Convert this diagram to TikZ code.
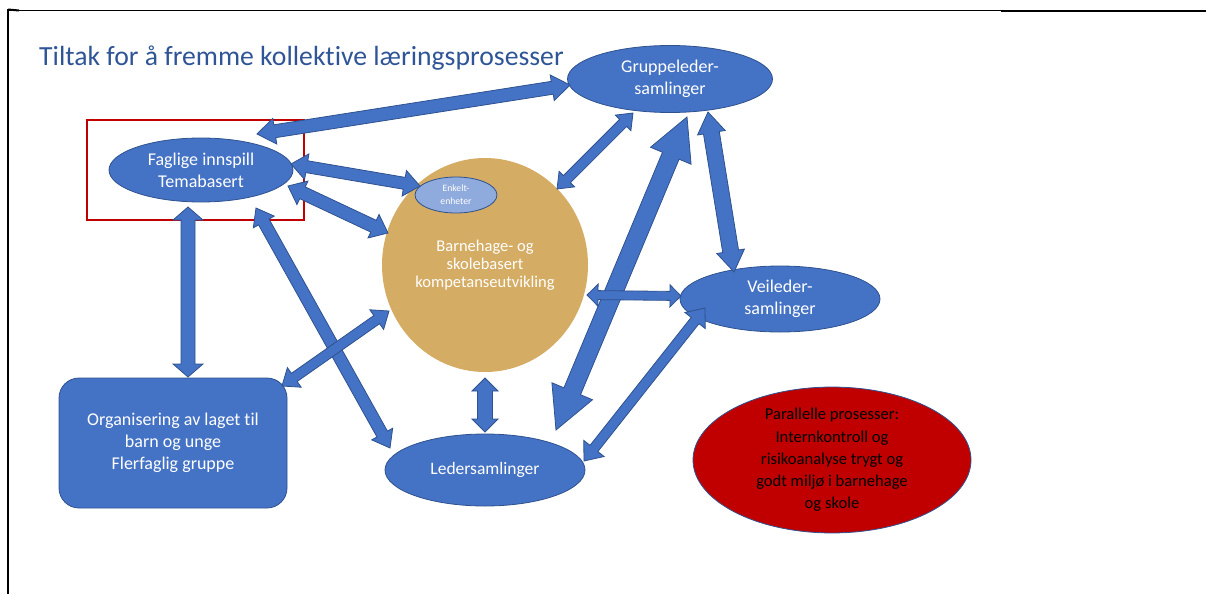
\documentclass[tikz,border=0pt]{standalone}
\usepackage{fontspec}
\setmainfont{Carlito}[Ligatures={NoCommon}]
\usetikzlibrary{calc,shapes.geometric}
\definecolor{bfill}{HTML}{4472C4}
\definecolor{bline}{HTML}{2F528F}
\definecolor{tan}{HTML}{D5AC63}
\definecolor{lblue}{HTML}{8FAADC}
\definecolor{dred}{HTML}{C00000}
\definecolor{ttl}{HTML}{2F5597}
\tikzset{
  bell/.style={ellipse, fill=bfill, draw=bline, line width=0.8pt, inner sep=0pt, text=white, align=center, font=\fontsize{18}{22}\selectfont},
  barrow/.style={fill=bfill, draw=bline, line width=0.8pt, line join=miter},
  ttlstyle/.style={text=ttl, font=\fontsize{27.7}{30}\selectfont, inner sep=0pt},
}
% #1 start, #2 end, #3 shaft half width, #4 head half width, #5 head length
\newcommand\blockarr[5]{%
  \filldraw[barrow] (#1)
   -- ($(#1)!#5pt!(#2)!#4pt!90:(#2)$)
   -- ($(#1)!#5pt!(#2)!#3pt!90:(#2)$)
   -- ($(#2)!#5pt!(#1)!#3pt!-90:(#1)$)
   -- ($(#2)!#5pt!(#1)!#4pt!-90:(#1)$)
   -- (#2)
   -- ($(#2)!#5pt!(#1)!#4pt!90:(#1)$)
   -- ($(#2)!#5pt!(#1)!#3pt!90:(#1)$)
   -- ($(#1)!#5pt!(#2)!#3pt!-90:(#2)$)
   -- ($(#1)!#5pt!(#2)!#4pt!-90:(#2)$)
   -- cycle;}
\begin{document}
\begin{tikzpicture}[x=1pt,y=-1pt]
\useasboundingbox (0,0) rectangle (1206,594);
% page frame
\coordinate (f1) at (7,10.5);
\coordinate (f2) at (1001,10.5);
\coordinate (f3) at (1001,11.2);
\coordinate (f4) at (1206,11.2);
\coordinate (f5) at (8,9.5);
\coordinate (f6) at (8,594);
\coordinate (f7) at (19,10.5);
\draw[line width=1pt] (f1) -- (f2);
\draw[line width=2.4pt] (f3) -- (f4);
\draw[line width=2.4pt] (f5) -- (f6);
\draw[line width=2pt] (f5) -- (f7);

\node[ttlstyle, anchor=base west] (title) at (39,66) {Tiltak for å fremme kollektive læringsprosesser};

% nodes
\node[ellipse, fill=tan, minimum width=206pt, minimum height=214pt, inner sep=0pt, text=white, align=center, font=\fontsize{16.5}{18}\selectfont] (circ) at (485,265) {Barnehage- og\\skolebasert\\kompetanseutvikling};
\node[bell, minimum width=205pt, minimum height=67pt] (grp) at (670,79) {Gruppeleder-\\samlinger};
\node[bell, minimum width=184pt, minimum height=64pt] (fag) at (201,170) {Faglige innspill\\Temabasert};
\node[bell, minimum width=200pt, minimum height=66pt] (veil) at (780,299) {Veileder-\\samlinger};
\node[bell, minimum width=200pt, minimum height=72pt, font=\fontsize{17.5}{21}\selectfont] (led) at (485,470) {Ledersamlinger};
\node[rectangle, rounded corners=20pt, fill=bfill, draw=bline, line width=0.8pt, minimum width=228pt, minimum height=130pt, text=white, align=center, font=\fontsize{18}{22}\selectfont] (org) at (173,443) {Organisering av laget til\\barn og unge\\Flerfaglig gruppe};
\node[ellipse, fill=dred, draw=bline, line width=0.8pt, minimum width=278pt, minimum height=144pt, inner sep=0pt, text=black, align=center, font=\fontsize{16.6}{22.2}\selectfont] (par) at (832,460) {Parallelle prosesser:\\Internkontroll og\\risikoanalyse trygt og\\godt miljø i barnehage\\og skole};
\node[draw=dred, line width=2.5pt, minimum width=217pt, minimum height=100pt, inner sep=0pt] (box) at (195.5,170) {};

% arrow end points
\coordinate (a1s) at (257,134);  \coordinate (a1e) at (570,85);
\coordinate (a2s) at (291,164);  \coordinate (a2e) at (420,186);
\coordinate (a3s) at (288,186);  \coordinate (a3e) at (388,233);
\coordinate (a4s) at (188,207);  \coordinate (a4e) at (188,377);
\coordinate (a5s) at (256,208);  \coordinate (a5e) at (390,448);
\coordinate (a6s) at (282,386);  \coordinate (a6e) at (389,311);
\coordinate (a7s) at (633,113);  \coordinate (a7e) at (557,189);
\coordinate (a8s) at (687,117);  \coordinate (a8e) at (556,430);
\coordinate (a9s) at (708,112);  \coordinate (a9e) at (734,272);
\coordinate (a10s) at (587,295); \coordinate (a10e) at (681,296);
\coordinate (a11s) at (705,308); \coordinate (a11e) at (584,461);
\coordinate (a12s) at (485,378); \coordinate (a12e) at (485,432);

\blockarr{a1s}{a1e}{6.5}{13}{18}
\blockarr{a2s}{a2e}{6}{13}{16}
\blockarr{a3s}{a3e}{6.5}{13}{16}
\blockarr{a4s}{a4e}{7}{15}{13}
\blockarr{a5s}{a5e}{6}{12}{16}
\blockarr{a6s}{a6e}{5}{12}{15}
\blockarr{a7s}{a7e}{5}{11}{14}
\blockarr{a8s}{a8e}{9}{22}{42}
\blockarr{a9s}{a9e}{8}{14}{21}
\blockarr{a10s}{a10e}{4.5}{11}{11}
\blockarr{a11s}{a11e}{5}{13}{16}
\blockarr{a12s}{a12e}{7.5}{13}{13}

\node[ellipse, fill=lblue, draw=bline, line width=0.8pt, minimum width=82pt, minimum height=36pt, inner sep=0pt, text=white, align=center, font=\fontsize{9.7}{13}\selectfont] (enk) at (456,195) {Enkelt-\\enheter};
\end{tikzpicture}
\end{document}
